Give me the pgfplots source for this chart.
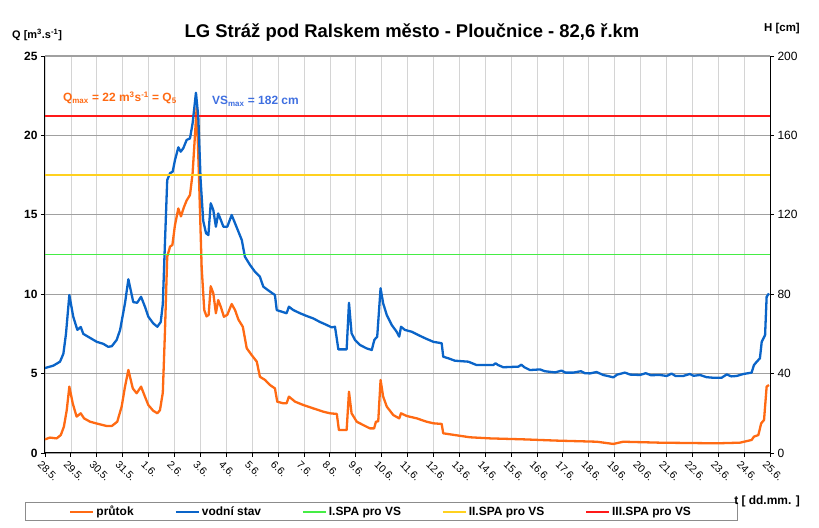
\documentclass[border=0pt]{standalone}
\usepackage{fontspec}
\setmainfont{Liberation Sans}
\usepackage{pgfplots}
\pgfplotsset{compat=1.18}
\definecolor{qor}{HTML}{FF6A13}
\definecolor{hbl}{HTML}{0A64C8}
\definecolor{greenspa}{rgb}{0.27,0.93,0.27}
\definecolor{yellowspa}{rgb}{1.0,0.82,0.12}
\definecolor{redspa}{rgb}{1.0,0.1,0.1}
\definecolor{gridh}{HTML}{A0A0A0}
\definecolor{gridv}{HTML}{D4D4D4}
\definecolor{vstxt}{HTML}{3F6FE0}
\pgfplotsset{
  common/.style={at={(45bp,75bp)}, anchor=south west, width=725bp, height=397bp,
    scale only axis, xmin=0, xmax=28, /pgf/number format/assume math mode=true,
    tick align=outside, major tick length=4bp, tick style={black, line width=0.8bp},
    axis line style={black, line width=1bp, -}},
}
\begin{document}
\begin{tikzpicture}
\path[use as bounding box] (0,0) rectangle (819bp,528bp);
\begin{axis}[common, ymin=0, ymax=25, ytick={0,5,...,25},
  axis x line*=bottom, axis y line*=left,
  xtick={0,...,28},
  xticklabels={28.5.,29.5.,30.5.,31.5.,1.6.,2.6.,3.6.,4.6.,5.6.,6.6.,7.6.,8.6.,9.6.,10.6.,11.6.,12.6.,13.6.,14.6.,15.6.,16.6.,17.6.,18.6.,19.6.,20.6.,21.6.,22.6.,23.6.,24.6.,25.6.},
  xticklabel style={font=\fontsize{10.5}{12}\selectfont, rotate=-45, anchor=west, xshift=-3bp, yshift=-8bp},
  yticklabel style={font=\fontsize{12}{14}\selectfont\bfseries},
  xmajorgrids, ymajorgrids,
  x grid style={gridv, line width=0.6bp}, y grid style={gridh, line width=1.2bp},
]
\addplot[draw=qor, line width=2.3bp, line join=round] coordinates {
(0.00,0.86) (0.19,0.97) (0.45,0.92) (0.61,1.13) (0.73,1.66) (0.84,2.7) (0.94,4.18)
(1.07,3.13) (1.22,2.29) (1.38,2.5) (1.51,2.18) (1.74,1.97) (2.06,1.83) (2.38,1.7)
(2.58,1.7) (2.79,1.97) (2.96,2.92) (3.09,4.18) (3.22,5.23) (3.39,4.07) (3.54,3.76)
(3.71,4.18) (3.86,3.55) (3.99,3.02) (4.18,2.66) (4.34,2.5) (4.44,2.7) (4.55,3.8)
(4.63,7.5) (4.72,12.36) (4.83,13) (4.92,13.1) (5.02,14.36) (5.15,15.4) (5.25,14.9)
(5.37,15.5) (5.47,15.9) (5.60,16.25) (5.70,17.6) (5.86,21.8) (5.95,17.2) (6.05,11.7)
(6.15,9.0) (6.24,8.6) (6.32,8.7) (6.40,10.5) (6.50,10.06) (6.60,8.8) (6.69,9.63)
(6.79,9.2) (6.91,8.58) (7.04,8.7) (7.21,9.38) (7.34,9.0) (7.47,8.4) (7.64,7.95)
(7.79,6.6) (7.98,6.17) (8.18,5.75) (8.30,4.8) (8.50,4.6) (8.69,4.28) (8.88,4.07)
(8.97,3.23) (9.20,3.13) (9.33,3.13) (9.42,3.55) (9.66,3.23) (9.98,3.02) (10.36,2.81)
(10.75,2.6) (11.01,2.5) (11.27,2.46) (11.35,1.45) (11.65,1.45) (11.74,3.86) (11.84,2.5)
(12.04,1.97) (12.29,1.76) (12.55,1.55) (12.71,1.55) (12.78,1.97) (12.87,2.0) (12.96,4.6)
(13.06,3.55) (13.20,2.92) (13.45,2.39) (13.68,2.18) (13.75,2.5) (13.97,2.33) (14.36,2.18)
(14.74,1.97) (15.00,1.87) (15.32,1.83) (15.38,1.24) (15.83,1.13) (16.41,0.99) (17.19,0.92)
(18.47,0.86) (19.76,0.78) (21.31,0.71) (21.95,0.57) (22.33,0.71) (23.75,0.65) (25.94,0.61)
(26.84,0.65) (27.29,0.82) (27.38,1.03) (27.55,1.13) (27.66,1.87) (27.77,2.08) (27.87,4.18)
(27.96,4.28)
};
\end{axis}
\begin{axis}[common, ymin=0, ymax=200, ytick={0,40,...,200},
  axis x line=none, axis y line*=right,
  yticklabel style={font=\fontsize{12}{14}\selectfont},
  legend columns=5,
  legend image code/.code={\draw[#1] (0bp,0bp) -- (23bp,0bp);},
  legend style={at={(-0.0276,-0.171)}, anchor=south west, draw=gray!90,
    font=\fontsize{12}{14}\selectfont\bfseries, inner xsep=44bp, inner ysep=1.5bp,
    /tikz/every even column/.append style={column sep=39bp}},
]
\addlegendimage{draw=qor, line width=2.3bp}
\addlegendentry{průtok}
\addplot[draw=redspa, line width=2bp, forget plot] coordinates {(0,170) (28,170)};
\addplot[draw=hbl, line width=2.3bp, line join=round] coordinates {
(0.00,42.8) (0.32,44) (0.58,46) (0.71,50) (0.81,60) (0.94,79.6) (1.09,68.7) (1.25,62)
(1.38,63.5) (1.48,60) (1.74,58) (2.00,56) (2.25,55) (2.44,53.5) (2.58,53.8) (2.77,57)
(2.90,62) (3.09,75.5) (3.22,87.5) (3.41,76) (3.56,75.7) (3.71,78.7) (3.86,73.7)
(3.99,68.7) (4.18,65.3) (4.34,63.6) (4.47,66) (4.55,75) (4.63,105) (4.72,137.5)
(4.83,141) (4.93,141.7) (5.02,147.6) (5.15,154) (5.24,151.8) (5.34,153.5) (5.47,157.7)
(5.60,158.5) (5.70,166) (5.83,181.5) (5.92,169.4) (6.01,137.5) (6.11,117) (6.22,110.7)
(6.31,109.8) (6.40,125.8) (6.50,122.4) (6.60,114) (6.69,120.7) (6.79,117.4) (6.89,114)
(7.04,114) (7.21,119.9) (7.34,115.7) (7.47,111.5) (7.60,107.3) (7.72,98.9) (7.92,94.7)
(8.11,91.3) (8.30,88.8) (8.43,83.8) (8.69,81.3) (8.88,79.6) (8.95,72) (9.14,71.2)
(9.33,70.4) (9.42,73.7) (9.59,72) (9.85,70.4) (10.11,69) (10.36,67.8) (10.62,66)
(10.88,64.5) (11.07,63.3) (11.20,63.6) (11.33,52.2) (11.65,52.2) (11.74,75.7) (11.84,60.3)
(11.97,57) (12.17,54.4) (12.42,52.7) (12.62,51.9) (12.72,57) (12.83,58.6) (12.96,83)
(13.06,75.4) (13.20,69.5) (13.39,64.5) (13.58,61.1) (13.68,58.6) (13.75,63.6) (13.90,62)
(14.16,61.1) (14.42,59.4) (14.68,57.8) (15.00,56) (15.32,55.3) (15.38,48.5) (15.58,47.7)
(15.83,46.5) (16.35,46) (16.67,44.3) (17.31,44.3) (17.40,45.2) (17.50,44.3) (17.70,43.2)
(18.28,43.5) (18.40,44.5) (18.50,43.3) (18.73,41.8) (19.12,42.1) (19.30,41.2) (19.70,40.6)
(19.95,41.5) (20.10,40.5) (20.40,40.5) (20.70,41.2) (20.85,40.2) (21.05,40.1) (21.30,40.8)
(21.56,39.3) (21.80,38.6) (21.95,38.1) (22.10,39.5) (22.40,40.5) (22.60,39.5) (22.98,39.3)
(23.20,40.2) (23.40,39.2) (23.75,39.3) (24.01,38.8) (24.20,40.0) (24.35,38.8) (24.65,38.8)
(24.90,39.8) (25.05,38.9) (25.30,39.3) (25.55,38.2) (25.81,37.9) (26.13,37.9) (26.33,39.6)
(26.50,38.6) (26.71,38.8) (26.97,39.8) (27.29,40.5) (27.38,44.3) (27.49,46) (27.61,47.7)
(27.68,56) (27.81,59.4) (27.87,78.7) (27.96,80.4)
};
\addlegendentry{vodní stav}
\addplot[draw=greenspa, line width=1.8bp] coordinates {(0,100) (28,100)};
\addlegendentry{I.SPA pro VS}
\addplot[draw=yellowspa, line width=1.8bp] coordinates {(0,140) (28,140)};
\addlegendentry{II.SPA pro VS}
\addlegendimage{draw=redspa, line width=1.8bp}
\addlegendentry{III.SPA pro VS}
\node[anchor=west, text=qor, font=\fontsize{12}{14}\selectfont\bfseries, inner sep=0pt]
  at (axis cs:0.69,179) {Q\textsubscript{max} = 22 m\textsuperscript{3}s\textsuperscript{-1} = Q\textsubscript{5}};
\node[anchor=west, text=vstxt, font=\fontsize{12}{14}\selectfont\bfseries, inner sep=0pt]
  at (axis cs:6.45,177) {VS\textsubscript{max} = 182  cm};
\end{axis}
\node[font=\fontsize{18.5}{22}\selectfont\bfseries] at (412bp,495bp) {LG Stráž pod Ralskem město - Ploučnice - 82,6 ř.km};
\node[anchor=west, font=\fontsize{11}{13}\selectfont\bfseries, inner sep=0pt] at (12bp,493bp) {Q [m\textsuperscript{3}.s\textsuperscript{-1}]};
\node[anchor=east, font=\fontsize{11.5}{13}\selectfont\bfseries, inner sep=0pt] at (800bp,499bp) {H [cm]};
\node[anchor=east, font=\fontsize{12}{14}\selectfont\bfseries, inner sep=0pt] at (800bp,27bp) {t [ dd.mm. ]};
\end{tikzpicture}
\end{document}
